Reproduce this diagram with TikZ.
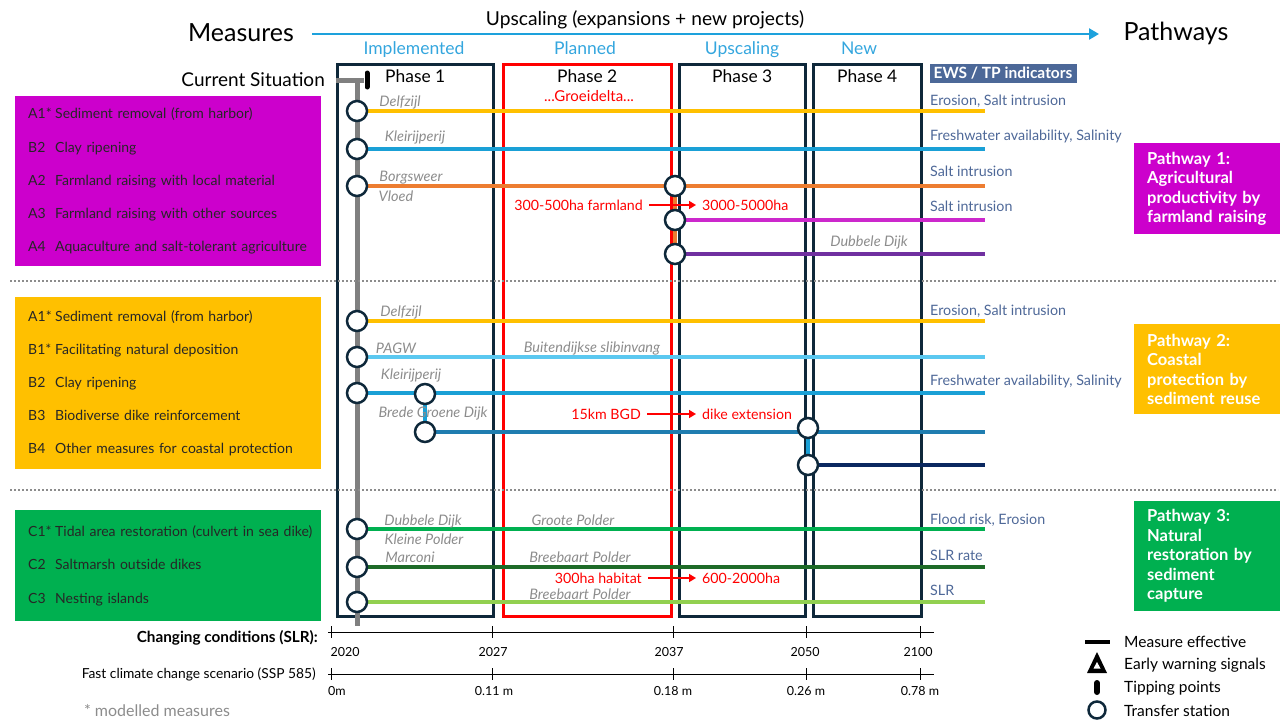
\documentclass[tikz,border=0pt]{standalone}
\usepackage{fontspec}
\setmainfont{Lato}
\usetikzlibrary{arrows.meta}
\definecolor{navy}{RGB}{14,40,58}
\definecolor{headblue}{RGB}{29,161,220}
\definecolor{phblue}{RGB}{52,166,222}
\definecolor{indblue}{RGB}{78,104,152}
\definecolor{ewsblue}{RGB}{76,104,152}
\definecolor{lblgrey}{RGB}{140,140,140}
\definecolor{cyel}{RGB}{255,192,0}
\definecolor{cblue}{RGB}{26,160,214}
\definecolor{corange}{RGB}{237,125,49}
\definecolor{cmag}{RGB}{204,0,204}
\definecolor{cmagl}{RGB}{204,40,204}
\definecolor{cpurple}{RGB}{112,48,160}
\definecolor{clblue}{RGB}{91,200,240}
\definecolor{csteel}{RGB}{31,125,176}
\definecolor{cnavy}{RGB}{10,40,96}
\definecolor{cgreen}{RGB}{0,176,80}
\definecolor{cdgreen}{RGB}{30,107,40}
\definecolor{clgreen}{RGB}{146,208,80}
\definecolor{cgreyline}{RGB}{128,128,128}
\pgfdeclarelayer{bg}
\pgfdeclarelayer{lines}
\pgfsetlayers{bg,lines,main}
\begin{document}
\begin{tikzpicture}[x=1pt,y=-1pt,
  ts/.style={circle, draw=navy, fill=white, line width=2.5pt, minimum size=20pt, inner sep=0pt},
  route/.style={line width=3.5pt},
  lbl/.style={font=\fontsize{14.5}{16}\selectfont\itshape, text=lblgrey, inner sep=0pt},
  ind/.style={font=\fontsize{14.3}{16}\selectfont, text=indblue, anchor=west, inner sep=0pt},
  redtxt/.style={font=\fontsize{14.2}{16}\selectfont, text=red, inner sep=0pt},
  redarrow/.style={-{Triangle[length=7pt,width=8pt]}, red, line width=1.6pt, shorten <=6pt, shorten >=6pt},
  phasebox/.style={draw=navy, line width=2.5pt, minimum width=#1, minimum height=552pt, anchor=north west, inner sep=0pt},
  phlbl/.style={font=\fontsize{17.4}{20}\selectfont, text=black, anchor=north, inner sep=0pt},
  stage/.style={font=\fontsize{17.5}{20}\selectfont, text=phblue, inner sep=0pt, anchor=base},
  listbox/.style={fill=#1, anchor=north west, text width=280pt, inner xsep=13pt, align=left,
     font=\fontsize{14}{33.2}\selectfont, text=black!85},
  pwbox/.style={fill=#1, anchor=north west, text width=132pt, inner xsep=13pt, inner ysep=0pt, align=left,
     font=\fontsize{16.5}{19.5}\selectfont\bfseries, text=white},
  axlbl/.style={font=\fontsize{12.5}{15}\selectfont, inner sep=0pt},
  leg/.style={font=\fontsize{15.5}{18}\selectfont, anchor=west, inner sep=0pt}
]
\useasboundingbox (0,0) rectangle (1280,720);

% ---------- headings ----------
\node[font=\fontsize{25}{30}\selectfont, inner sep=0pt] (measures) at (241,33) {Measures};
\node[font=\fontsize{25}{30}\selectfont, inner sep=0pt] (pathways) at (1176,33) {Pathways};
\node[font=\fontsize{19.2}{22}\selectfont, inner sep=0pt] (upsc) at (645,20) {Upscaling (expansions + new projects)};
\coordinate (arrS) at (312,34);
\coordinate (arrE) at (1099,34);
\draw[headblue, line width=2.5pt, -{Triangle[length=10pt,width=11pt]}] (arrS) -- (arrE);
\node[stage] (stImp) at (414,54) {Implemented};
\node[stage] (stPla) at (585,54) {Planned};
\node[stage] (stUps) at (742,54) {Upscaling};
\node[stage] (stNew) at (859,54) {New};

% ---------- phase boxes ----------
\begin{pgfonlayer}{bg}
\node[phasebox=156pt] (ph1) at (336,63) {};
\node[phasebox=168pt, draw=red] (ph2) at (502,63) {};
\node[phasebox=126pt] (ph3) at (678,63) {};
\node[phasebox=108pt] (ph4) at (812,63) {};
\end{pgfonlayer}
\node[phlbl] (ph1l) at ([yshift=-6pt]ph1.north) {Phase 1};
\node[phlbl] (ph2l) at ([yshift=-6pt]ph2.north) {Phase 2};
\node[phlbl] (ph3l) at ([yshift=-6pt]ph3.north) {Phase 3};
\node[phlbl] (ph4l) at ([yshift=-6pt]ph4.north) {Phase 4};
\node[font=\fontsize{15}{17}\selectfont, text=red, inner sep=0pt] (groei) at (589,96) {...Groeidelta...};
\node[fill=ewsblue, text=white, font=\fontsize{15.5}{17}\selectfont\bfseries, minimum width=147pt, minimum height=19pt, inner sep=0pt] (ews) at (1003,73) {EWS / TP indicators};

% ---------- current situation ----------
\node[font=\fontsize{19}{22}\selectfont, anchor=east, inner sep=0pt] (cur) at (325,80) {Current Situation};
\coordinate (gT) at (357,80);
\coordinate (gL) at (336,80);
\coordinate (gR) at (364,80);
\coordinate (gB) at (357,626);
\coordinate (tpT) at (367,73);
\coordinate (tpB) at (367,87);
\begin{pgfonlayer}{lines}
\draw[cgreyline, line width=5pt] (gL) -- (gR);
\draw[cgreyline, line width=5pt] (gT) -- (gB);
\end{pgfonlayer}
\draw[black, line width=5pt, line cap=round] (tpT) -- (tpB);

% ---------- separators ----------
\draw[lblgrey, line width=1.5pt, dash pattern=on 2pt off 2pt] (10,281) -- (1278,281);
\draw[lblgrey, line width=1.5pt, dash pattern=on 2pt off 2pt] (10,490) -- (1278,490);

% ---------- left measure boxes ----------
\node[listbox=cmag, minimum height=170pt] (boxA) at (15,96) {%
\makebox[27pt][l]{A1*}Sediment removal (from harbor)\\
\makebox[27pt][l]{B2}Clay ripening\\
\makebox[27pt][l]{A2}Farmland raising with local material\\
\makebox[27pt][l]{A3}Farmland raising with other sources\\
\makebox[27pt][l]{A4}Aquaculture and salt-tolerant agriculture};
\node[listbox=cyel, minimum height=172pt] (boxB) at (15,297) {%
\makebox[27pt][l]{A1*}Sediment removal (from harbor)\\
\makebox[27pt][l]{B1*}Facilitating natural deposition\\
\makebox[27pt][l]{B2}Clay ripening\\
\makebox[27pt][l]{B3}Biodiverse dike reinforcement\\
\makebox[27pt][l]{B4}Other measures for coastal protection};
\node[listbox=cgreen, minimum height=111pt] (boxC) at (15,510) {%
\mbox{\makebox[27pt][l]{C1*}Tidal area restoration (culvert in sea dike)}\\
\makebox[27pt][l]{C2}Saltmarsh outside dikes\\
\makebox[27pt][l]{C3}Nesting islands};

% ---------- right pathway boxes ----------
\node[pwbox=cmag, minimum height=91pt] (pw1) at (1134,143) {Pathway 1:\\Agricultural\\productivity by\\farmland raising};
\node[pwbox=cyel, minimum height=90pt] (pw2) at (1134,324) {Pathway 2:\\Coastal\\protection by\\sediment reuse};
\node[pwbox=cgreen, minimum height=110pt] (pw3) at (1134,501) {Pathway 3:\\Natural\\restoration by\\sediment\\capture};

% ---------- transfer stations ----------
\node[ts] (a1) at (357,111) {};
\node[ts] (a2) at (357,149) {};
\node[ts] (a3) at (357,186) {};
\node[ts] (a3b) at (675,186) {};
\node[ts] (a4) at (675,220) {};
\node[ts] (a5) at (675,254) {};
\node[ts] (b1) at (357,321) {};
\node[ts] (b2) at (357,357) {};
\node[ts] (b3) at (357,393) {};
\node[ts] (b3b) at (425,394) {};
\node[ts] (b4) at (425,432) {};
\node[ts] (b4b) at (808,428) {};
\node[ts] (b5) at (808,465) {};
\node[ts] (c1) at (357,529) {};
\node[ts] (c2) at (357,567) {};
\node[ts] (c3) at (357,602) {};

% end points of routes
\coordinate (ea1) at (985,111);
\coordinate (ea2) at (985,149);
\coordinate (ea3) at (985,186);
\coordinate (ea4) at (985,220);
\coordinate (ea5) at (985,254);
\coordinate (eb1) at (985,321);
\coordinate (eb2) at (985,357);
\coordinate (eb3) at (985,394);
\coordinate (eb4) at (985,430);
\coordinate (eb5) at (985,465);
\coordinate (ec1) at (985,530);
\coordinate (ec2) at (985,566);
\coordinate (ec3) at (985,603);

\begin{pgfonlayer}{lines}
\draw[route, cyel] (a1.center) -- (ea1);
\draw[route, cblue] (a2.center) -- (ea2);
\draw[route, corange] (a3.center) -- (a3 -| ea3);
\draw[route, cmagl] (a4.center) -- (a4 -| ea4);
\draw[route, cpurple] (a5.center) -- (a5 -| ea5);
\draw[route, corange] (a3b.center) -- (a5.center);
\draw[route, cyel] (b1.center) -- (eb1);
\draw[route, clblue] (b2.center) -- (eb2);
\draw[route, cblue] (b3.center) -- (b3 -| eb3);
\draw[route, cblue] (b3b.center) -- (b4.center);
\draw[route, csteel] (b4.center) -- (b4 -| eb4);
\draw[route, cblue] (b4b.center) -- (b5.center);
\draw[route, cnavy] (b5.center) -- (b5 -| eb5);
\draw[route, cgreen] (c1.center) -- (c1 -| ec1);
\draw[route, cdgreen] (c2.center) -- (c2 -| ec2);
\draw[route, clgreen] (c3.center) -- (c3 -| ec3);
\end{pgfonlayer}

% ---------- grey labels ----------
\node[lbl] (la1) at (400,102) {Delfzijl};
\node[lbl] (la2) at (415,137) {Kleirijperij};
\node[lbl] (la3) at (411,178) {Borgsweer};
\node[lbl] (la3b) at (396,196) {Vloed};
\node[lbl] (la5) at (869,242) {Dubbele Dijk};
\node[lbl] (lb1) at (401,312) {Delfzijl};
\node[lbl] (lb2) at (396,348) {PAGW};
\node[lbl] (lb2b) at (592,348) {Buitendijkse slibinvang};
\node[lbl] (lb3) at (411,375) {Kleirijperij};
\node[lbl] (lb4) at (433,413) {Brede Groene Dijk};
\node[lbl] (lc1) at (423,521) {Dubbele Dijk};
\node[lbl] (lc1b) at (424,539) {Kleine Polder};
\node[lbl] (lc1c) at (573,520) {Groote Polder};
\node[lbl] (lc2) at (410,557) {Marconi};
\node[lbl] (lc2b) at (580,557) {Breebaart Polder};
\node[lbl] (lc3) at (580,594) {Breebaart Polder};

% ---------- red upscaling notes ----------
\node[redtxt, anchor=east] (r1a) at (643,205) {300-500ha farmland};
\node[redtxt, anchor=west] (r1b) at (702,205) {3000-5000ha};
\draw[redarrow] (r1a.east) -- (r1b.west);
\node[redtxt, anchor=east] (r2a) at (641,414) {15km BGD};
\node[redtxt, anchor=west] (r2b) at (702,414) {dike extension};
\draw[redarrow] (r2a.east) -- (r2b.west);
\node[redtxt, anchor=east] (r3a) at (642,578) {300ha habitat};
\node[redtxt, anchor=west] (r3b) at (702,578) {600-2000ha};
\draw[redarrow] (r3a.east) -- (r3b.west);

% ---------- indicators ----------
\node[ind] (i1) at (930,101) {Erosion, Salt intrusion};
\node[ind] (i2) at (930,136) {Freshwater availability, Salinity};
\node[ind] (i3) at (930,171) {Salt intrusion};
\node[ind] (i4) at (930,206) {Salt intrusion};
\node[ind] (i5) at (930,311) {Erosion, Salt intrusion};
\node[ind] (i6) at (930,381) {Freshwater availability, Salinity};
\node[ind] (i7) at (930,520) {Flood risk, Erosion};
\node[ind] (i8) at (930,555) {SLR rate};
\node[ind] (i9) at (930,590) {SLR};

% ---------- timelines ----------
\node[font=\fontsize{15.3}{17}\selectfont\bfseries, anchor=east, inner sep=0pt] (cc) at (318,638) {Changing conditions (SLR):};
\node[font=\fontsize{13.8}{16}\selectfont, anchor=east, inner sep=0pt] (fc) at (316,674) {Fast climate change scenario (SSP 585)};
\node[font=\fontsize{16}{18}\selectfont, text=lblgrey, inner sep=0pt] (mm) at (157,711) {* modelled measures};
\draw[black, line width=1pt] (328,632) -- (934,632);
\draw[black, line width=1pt] (328,674) -- (934,674);
\foreach \x in {331,492,673,806,920} {
  \draw[black, line width=1pt] (\x,626) -- (\x,638);
  \draw[black, line width=1pt] (\x,668) -- (\x,680);
}
\node[axlbl] (y1) at (345,652) {2020};
\node[axlbl] (y2) at (493,652) {2027};
\node[axlbl] (y3) at (669,652) {2037};
\node[axlbl] (y4) at (805,652) {2050};
\node[axlbl] (y5) at (918,652) {2100};
\node[axlbl] (s1) at (337,691) {0m};
\node[axlbl] (s2) at (494,691) {0.11 m};
\node[axlbl] (s3) at (673,691) {0.18 m};
\node[axlbl] (s4) at (806,691) {0.26 m};
\node[axlbl] (s5) at (920,691) {0.78 m};

% ---------- legend ----------
\draw[black, line width=3.5pt] (1085,642) -- (1110,642);
\node[leg] (lg1) at (1124,642) {Measure effective};
\fill[black] (1097,652) -- (1107,673) -- (1087,673) -- cycle;
\fill[white] (1097,662) -- (1100.5,668.5) -- (1093.5,668.5) -- cycle;
\node[leg] (lg2) at (1124,665) {Early warning signals};
\draw[black, line width=6pt, line cap=round] (1097,683) -- (1097,692);
\node[leg] (lg3) at (1124,688) {Tipping points};
\node[ts, minimum size=17pt] (lgts) at (1097,710) {};
\node[leg] (lg4) at (1124,711) {Transfer station};
\end{tikzpicture}
\end{document}
